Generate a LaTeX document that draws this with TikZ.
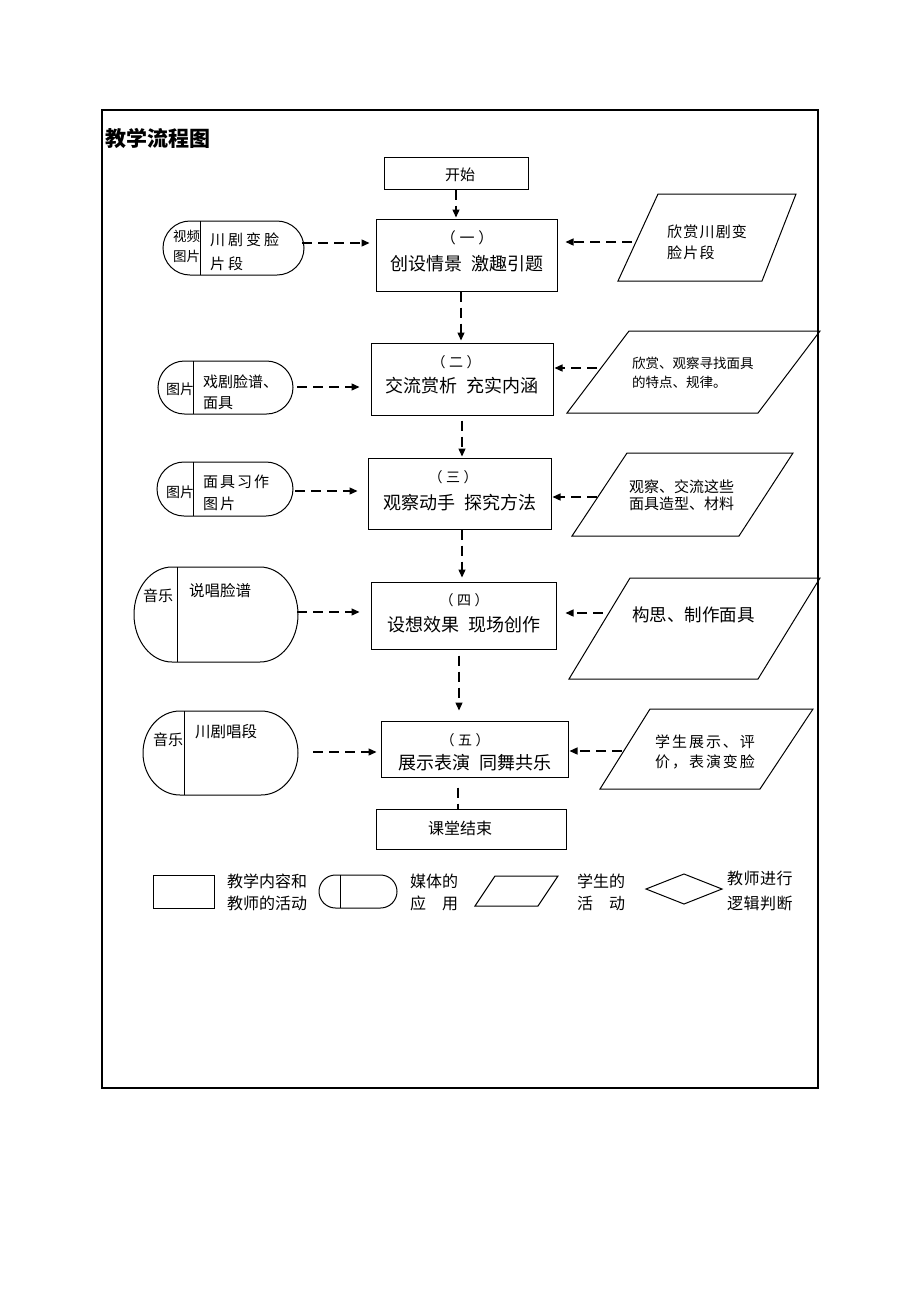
\documentclass[tikz,border=0pt]{standalone}
\usepackage{fontspec}
\setmainfont{Noto Sans CJK SC}
\usetikzlibrary{arrows.meta}
\newcommand{\fs}[1]{\fontsize{#1}{#1}\selectfont}
\newcommand{\lsp}[1]{\addfontfeatures{LetterSpace=#1}}
\newcommand{\pn}[1]{（\hspace{0.25em}#1\hspace{0.25em}）}
\newcommand{\mediashape}[7]{%
  \draw[outl] (#1+#5,-#2) -- (#3-#5,-#2)
    arc[start angle=90,end angle=-90,x radius=#5,y radius=#6]
    -- (#1+#5,-#4)
    arc[start angle=270,end angle=90,x radius=#5,y radius=#6] -- cycle;
  \draw[outl] (#7,-#2) -- (#7,-#4);}
\begin{document}
\begin{tikzpicture}[x=1pt,y=1pt,
  flowbox/.style={draw, line width=1pt, inner sep=0pt},
  outl/.style={draw, line width=1pt},
  conn/.style={line width=1.3pt, dash pattern=on 10pt off 6pt, -{Triangle[length=8pt,width=7pt]}},
  plain/.style={line width=1.3pt, dash pattern=on 10pt off 6pt},
  txt/.style={inner sep=0pt, anchor=west},
  ctxt/.style={inner sep=0pt}]

\useasboundingbox (0,0) rectangle (920,-1302);
\draw[line width=2pt] (102,-110) rectangle (818,-1088);
\node[txt, font=\fs{21}\bfseries] (title) at (105,-138) {教学流程图};

% ---------- main boxes ----------
\node[flowbox, minimum width=144pt, minimum height=32pt] (start) at (456,-173) {};
\node[ctxt, font=\fs{15}] (startT) at (460,-175) {开始};

\node[flowbox, minimum width=181pt, minimum height=72pt] (b1) at (466.5,-255) {};
\node[ctxt, font=\fs{15}] (b1a) at (467,-238) {\pn{一}};
\node[ctxt, font=\fs{18}] (b1b) at (466.5,-264) {创设情景\hspace{0.5em}激趣引题};

\node[flowbox, minimum width=182pt, minimum height=72pt] (b2) at (462,-379) {};
\node[ctxt, font=\fs{14}] (b2a) at (456,-362) {\pn{二}};
\node[ctxt, font=\fs{18}] (b2b) at (461.5,-386) {交流赏析\hspace{0.5em}充实内涵};

\node[flowbox, minimum width=183pt, minimum height=71pt] (b3) at (459.5,-493.5) {};
\node[ctxt, font=\fs{14}] (b3a) at (453,-477) {\pn{三}};
\node[ctxt, font=\fs{18}] (b3b) at (460,-503) {观察动手\hspace{0.5em}探究方法};

\node[flowbox, minimum width=185pt, minimum height=67pt] (b4) at (463.5,-615.5) {};
\node[ctxt, font=\fs{14}] (b4a) at (464,-600) {\pn{四}};
\node[ctxt, font=\fs{18}] (b4b) at (464,-625) {设想效果\hspace{0.5em}现场创作};

\node[flowbox, minimum width=187pt, minimum height=56pt] (b5) at (474.5,-749) {};
\node[ctxt, font=\fs{14}] (b5a) at (465,-740) {\pn{五}};
\node[ctxt, font=\fs{18}] (b5b) at (474.5,-763) {展示表演\hspace{0.5em}同舞共乐};

\node[flowbox, minimum width=190pt, minimum height=40pt] (finish) at (471,-829) {};
\node[ctxt, font=\fs{16}] (finishT) at (460,-828) {课堂结束};

% ---------- media shapes ----------
\mediashape{163}{221}{304}{275}{27}{27}{200}
\node[txt, font=\fs{13.5}] (m1a) at (173,-236) {视频};
\node[txt, font=\fs{13.5}] (m1b) at (173,-256) {图片};
\node[txt, font=\fs{15}\lsp{20}] (m1c) at (210,-240) {川剧变脸};
\node[txt, font=\fs{15}\lsp{20}] (m1d) at (210,-264) {片段};

\mediashape{158}{361}{293}{414}{26.5}{26.5}{193}
\node[txt, font=\fs{14}] (m2a) at (166,-389) {图片};
\node[txt, font=\fs{15}] (m2b) at (203,-382) {戏剧脸谱、};
\node[txt, font=\fs{15}] (m2c) at (203,-403) {面具};

\mediashape{157}{462}{293}{516}{27}{27}{193}
\node[txt, font=\fs{14}] (m3a) at (166,-492) {图片};
\node[txt, font=\fs{15}\lsp{13}] (m3b) at (203,-482) {面具习作};
\node[txt, font=\fs{15}\lsp{13}] (m3c) at (203,-504) {图片};

\mediashape{134}{567}{298}{662}{38}{47.5}{177}
\node[txt, font=\fs{15}] (m4a) at (143,-596) {音乐};
\node[txt, font=\fs{15.5}] (m4b) at (189,-591) {说唱脸谱};

\mediashape{143}{711}{298}{795}{37}{42}{184}
\node[txt, font=\fs{15}] (m5a) at (153,-740) {音乐};
\node[txt, font=\fs{15.5}] (m5b) at (195,-732) {川剧唱段};

% ---------- student parallelograms ----------
\draw[outl] (658,-194) -- (796,-194) -- (762,-281) -- (618,-281) -- cycle;
\node[txt, font=\fs{15}\lsp{8}] (p1a) at (667,-232) {欣赏川剧变};
\node[txt, font=\fs{15}\lsp{8}] (p1b) at (667,-253) {脸片段};

\draw[outl] (629,-331) -- (820,-331) -- (758,-413) -- (567,-413) -- cycle;
\node[txt, font=\fs{13.5}] (p2a) at (632,-363) {欣赏、观察寻找面具};
\node[txt, font=\fs{13.5}] (p2b) at (632,-382) {的特点、规律。};

\draw[outl] (627,-453) -- (793,-453) -- (739,-536) -- (572,-536) -- cycle;
\node[txt, font=\fs{15}] (p3a) at (629,-487) {观察、交流这些};
\node[txt, font=\fs{15}] (p3b) at (629,-504) {面具造型、材料};

\draw[outl] (630,-578) -- (820,-578) -- (758,-679) -- (569,-679) -- cycle;
\node[txt, font=\fs{17.5}] (p4a) at (632,-615) {构思、制作面具};

\draw[outl] (650,-709) -- (813,-709) -- (760,-789) -- (600,-789) -- cycle;
\node[txt, font=\fs{15}\lsp{13}] (p5a) at (655,-742) {学生展示、评};
\node[txt, font=\fs{15}\lsp{13}] (p5b) at (655,-762) {价，表演变脸};

% ---------- connector end coordinates ----------
\coordinate (m1e) at (302,-243);
\coordinate (m2e) at (297,-387);
\coordinate (m3e) at (295,-491);
\coordinate (m4e) at (297,-612);
\coordinate (m5e) at (313,-752);
\coordinate (p1e) at (632,-242);
\coordinate (p2e) at (597,-368);
\coordinate (p3e) at (597,-497);
\coordinate (p4e) at (603,-613);
\coordinate (p5e) at (622,-751);
\coordinate (v1) at (456,0);
\coordinate (v2) at (461,0);
\coordinate (v3) at (462,0);
\coordinate (v4) at (462,0);
\coordinate (v5) at (459,0);
\coordinate (v6) at (458,0);

% ---------- connectors ----------
\draw[conn, shorten >=1pt] (start.south -| v1) -- (b1.north -| v1);
\draw[conn, shorten >=2pt] (b1.south -| v2) -- (b2.north -| v2);
\draw[conn, shorten <=5pt, shorten >=1pt] (b2.south -| v3) -- (b3.north -| v3);
\draw[conn, shorten >=4pt] (b3.south -| v4) -- (b4.north -| v4);
\draw[conn, shorten <=6pt, shorten >=10pt] (b4.south -| v5) -- (b5.north -| v5);
\draw[plain, shorten <=10pt] (b5.south -| v6) -- (finish.north -| v6);

\draw[conn, shorten >=6pt] (m1e) -- (m1e -| b1.west);
\draw[conn, shorten >=11pt] (m2e) -- (m2e -| b2.west);
\draw[conn, shorten >=10pt] (m3e) -- (m3e -| b3.west);
\draw[conn, shorten >=11pt] (m4e) -- (m4e -| b4.west);
\draw[conn, shorten >=4pt] (m5e) -- (m5e -| b5.west);

\draw[conn, shorten >=8pt] (p1e) -- (p1e -| b1.east);
\draw[conn, shorten >=1pt] (p2e) -- (p2e -| b2.east);
\draw[conn, shorten >=1pt] (p3e) -- (p3e -| b3.east);
\draw[conn, shorten >=9pt] (p4e) -- (p4e -| b4.east);
\draw[conn, shorten >=1pt] (p5e) -- (p5e -| b5.east);

% ---------- legend ----------
\node[flowbox, minimum width=61pt, minimum height=33pt] (lg1) at (183.5,-891.5) {};
\node[txt, font=\fs{16}] (lg1a) at (227,-881) {教学内容和};
\node[txt, font=\fs{16}] (lg1b) at (227,-903) {教师的活动};

\mediashape{319}{875}{397}{908}{16.5}{16.5}{340}
\node[txt, font=\fs{16}] (lg2a) at (410,-881) {媒体的};
\node[txt, font=\fs{16}] (lg2b) at (410,-903) {应\hspace{1em}用};

\draw[outl] (495,-876) -- (558,-876) -- (538,-906) -- (475,-906) -- cycle;
\node[txt, font=\fs{16}] (lg3a) at (577,-881) {学生的};
\node[txt, font=\fs{16}] (lg3b) at (577,-903) {活\hspace{1em}动};

\draw[outl] (646,-889) -- (684,-874) -- (722,-889) -- (684,-904) -- cycle;
\node[txt, font=\fs{16}\lsp{3}] (lg4a) at (727,-878) {教师进行};
\node[txt, font=\fs{16}\lsp{3}] (lg4b) at (727,-903) {逻辑判断};
\end{tikzpicture}
\end{document}
